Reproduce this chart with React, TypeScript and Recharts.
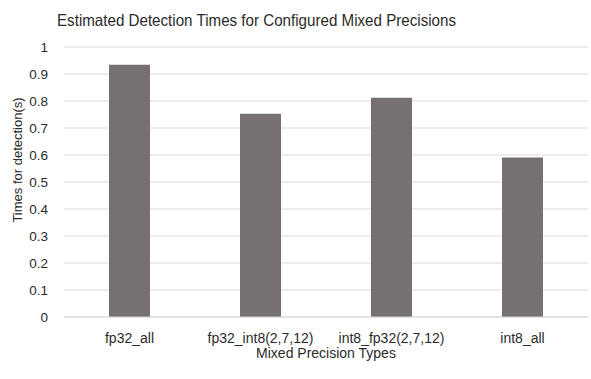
import React from 'react';
import { BarChart, Bar, XAxis, YAxis, CartesianGrid } from 'recharts';

const categories = ['fp32_all', 'fp32_int8(2,7,12)', 'int8_fp32(2,7,12)', 'int8_all'];
const detectionTimes = [0.934, 0.753, 0.812, 0.591];
const yTicks = [0, 0.1, 0.2, 0.3, 0.4, 0.5, 0.6, 0.7, 0.8, 0.9, 1];

const FONT = '"Liberation Sans", Arial, sans-serif';
const TEXT_COLOR = '#2b2b2b';

const data = categories.map((name, i) => ({ name, time: detectionTimes[i] }));

const YTick = ({ x, y, payload }: any) => (
  <text x={x - 16} y={y} dy="0.355em" textAnchor="end" fontSize={13.5} fontFamily={FONT} fill={TEXT_COLOR}>
    {payload.value}
  </text>
);

export default function App() {
  return (
    <div style={{ position: 'absolute', left: 0, top: 0, width: 591, height: 379, background: '#fff' }}>
      <BarChart
        width={591}
        height={379}
        data={data}
        margin={{ top: 47, right: 3, left: 8, bottom: 17 }}
      >
        <CartesianGrid vertical={false} stroke="#d9d9d9" />
        <XAxis
          dataKey="name"
          height={45}
          tickLine={false}
          tickSize={6}
          tickMargin={10}
          stroke="#d9d9d9"
          tick={{ fontSize: 14, fontFamily: FONT, fill: TEXT_COLOR }}
          interval={0}
          label={{
            value: 'Mixed Precision Types',
            position: 'insideBottom',
            offset: 4,
            fontSize: 14,
            fontFamily: FONT,
            fill: TEXT_COLOR,
          }}
        />
        <YAxis
          width={56}
          domain={[0, 1]}
          ticks={yTicks}
          axisLine={false}
          tickLine={false}
          tickSize={0}
          tickMargin={0}
          tick={<YTick />}
        />
        <Bar dataKey="time" fill="#767170" barSize={41} isAnimationActive={false} />
      </BarChart>
      <svg
        width={591}
        height={379}
        style={{ position: 'absolute', left: 0, top: 0, pointerEvents: 'none' }}
      >
        <text
          x={57}
          y={26}
          fontSize={16.5}
          fontFamily={FONT}
          fill={TEXT_COLOR}
          textLength={399}
          lengthAdjust="spacingAndGlyphs"
        >
          Estimated Detection Times for Configured Mixed Precisions
        </text>
        <text
          x={22}
          y={160}
          transform="rotate(-90 22 160)"
          textAnchor="middle"
          fontSize={13}
          fontFamily={FONT}
          fill={TEXT_COLOR}
        >
          Times for detection(s)
        </text>
      </svg>
    </div>
  );
}
